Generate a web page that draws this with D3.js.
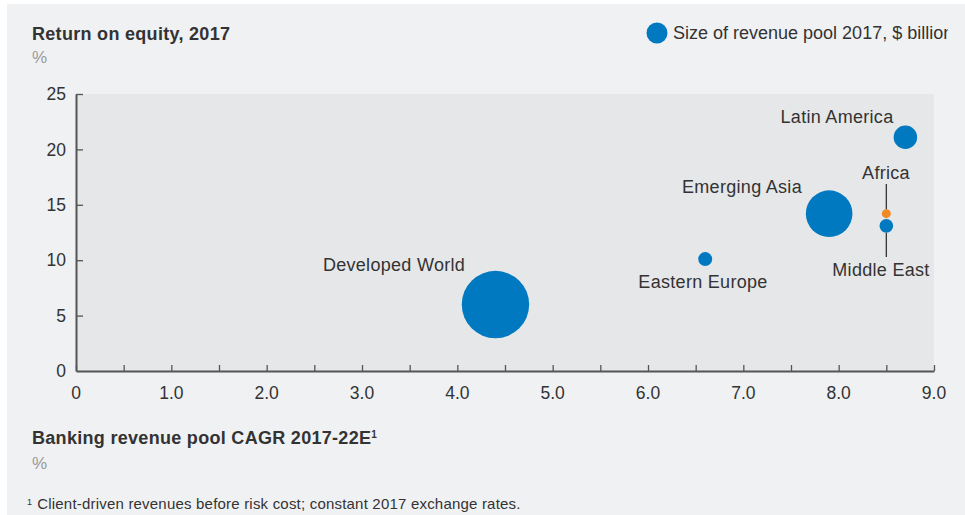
<!DOCTYPE html>
<html>
<head>
<meta charset="utf-8">
<script src="https://cdn.jsdelivr.net/npm/d3@7"></script>
<style>
  html, body { margin: 0; padding: 0; background: #fff; }
  svg { display: block; font-family: "Liberation Sans", Arial, sans-serif; }
</style>
</head>
<body>
<div id="chart"></div>
<script>
// data
var regions = ["Developed World", "Emerging Asia", "Latin America", "Eastern Europe", "Middle East", "Africa"];
var cagr    = [4.4, 7.9, 8.7, 6.6, 8.5, 8.5];        // x, %
var roe     = [6.0, 14.2, 21.1, 10.1, 13.1, 14.2];   // y, %
var pool    = [2800, 1340, 340, 120, 115, 50];       // $ billion (bubble size)
var xTicks  = [0, 1, 2, 3, 4, 5, 6, 7, 8, 9];
var yTicks  = [0, 5, 10, 15, 20, 25];

var W = 965, H = 515;
var m = {left: 76, right: 31, top: 94, bottom: 144};
var blue = "#0079c1", orange = "#f08a24", ink = "#333", grey = "#9a9a9a";

var svg = d3.select("#chart").append("svg").attr("width", W).attr("height", H);

// panel
svg.append("rect").attr("x", 7).attr("y", 4).attr("width", W - 7).attr("height", H - 4).attr("fill", "#f0f1f3");

var x = d3.scaleLinear().domain([0, 9]).range([m.left, W - m.right]);
var y = d3.scaleLinear().domain([0, 25]).range([H - m.bottom, m.top]);
var r = d3.scaleSqrt().domain([0, 2800]).range([0, 33.7]);

svg.append("rect")
  .attr("x", x(0)).attr("y", y(25))
  .attr("width", x(9) - x(0)).attr("height", y(0) - y(25))
  .attr("fill", "#e6e7e9");

// titles
svg.append("text").attr("x", 32).attr("y", 40).attr("font-size", 18).attr("letter-spacing", 0.3)
  .attr("font-weight", "bold").attr("fill", ink).text("Return on equity, 2017");
svg.append("text").attr("x", 32).attr("y", 63).attr("font-size", 17).attr("fill", grey).text("%");

var xt = svg.append("text").attr("x", 32).attr("y", 444).attr("font-size", 18).attr("letter-spacing", 0.3)
  .attr("font-weight", "bold").attr("fill", ink);
xt.append("tspan").text("Banking revenue pool CAGR 2017-22E");
xt.append("tspan").attr("font-size", 10).attr("dy", -6).text("1");
svg.append("text").attr("x", 32).attr("y", 469).attr("font-size", 17).attr("fill", grey).text("%");

var fn = svg.append("text").attr("x", 27).attr("y", 509).attr("font-size", 15).attr("letter-spacing", 0.2).attr("fill", ink);
fn.append("tspan").attr("font-size", 9).attr("dy", -4).text("1");
fn.append("tspan").attr("dy", 4).attr("dx", 5).text("Client-driven revenues before risk cost; constant 2017 exchange rates.");

// legend (clipped at the right like the source)
svg.append("clipPath").attr("id", "lg").append("rect").attr("x", 600).attr("y", 0).attr("width", 348).attr("height", 60);
var lg = svg.append("g").attr("clip-path", "url(#lg)");
lg.append("circle").attr("cx", 657).attr("cy", 33).attr("r", 10.5).attr("fill", blue);
lg.append("text").attr("x", 673).attr("y", 39).attr("font-size", 18).attr("fill", ink)
  .text("Size of revenue pool 2017, $ billion");

// axes
var xAxis = d3.axisBottom(x).tickValues(d3.range(0, 9.01, 0.5)).tickSizeInner(-6).tickSizeOuter(0).tickFormat("");
var gx = svg.append("g").attr("transform", "translate(0," + y(0) + ")").call(xAxis);
var yAxis = d3.axisLeft(y).tickValues(yTicks).tickSizeInner(-7).tickSizeOuter(0).tickFormat("");
var gy = svg.append("g").attr("transform", "translate(" + x(0) + ",0)").call(yAxis);
[gx, gy].forEach(function(g) {
  g.selectAll("path").attr("stroke", "#555").attr("stroke-width", 2);
  g.selectAll("line").attr("stroke", "#555").attr("stroke-width", 1.3);
});
gy.selectAll(".tick").filter(function(d) { return d === 0; }).remove();

svg.append("g").selectAll("text").data(xTicks).enter().append("text")
  .attr("x", function(d) { return x(d); }).attr("y", 399)
  .attr("text-anchor", "middle").attr("font-size", 17.5).attr("fill", ink)
  .text(function(d) { return d === 0 ? "0" : d3.format(".1f")(d); });
svg.append("g").selectAll("text").data(yTicks).enter().append("text")
  .attr("x", 66).attr("y", function(d) { return y(d); }).attr("dy", "0.35em")
  .attr("text-anchor", "end").attr("font-size", 17.5).attr("fill", ink)
  .text(function(d) { return d; });

// bubbles
var pts = regions.map(function(n, i) { return {name: n, x: cagr[i], y: roe[i], v: pool[i]}; });
svg.append("g").selectAll("circle").data(pts).enter().append("circle")
  .attr("cx", function(d) { return x(d.x); })
  .attr("cy", function(d) { return y(d.y); })
  .attr("r", function(d) { return r(d.v); })
  .attr("fill", function(d) { return d.name === "Africa" ? orange : blue; });

// leader lines for the two small ones
var af = pts[5], me = pts[4];
svg.append("line").attr("x1", x(af.x)).attr("x2", x(af.x))
  .attr("y1", 184).attr("y2", y(af.y) - r(af.v)).attr("stroke", ink).attr("stroke-width", 1.3);
svg.append("line").attr("x1", x(me.x)).attr("x2", x(me.x))
  .attr("y1", y(me.y) + r(me.v)).attr("y2", 257).attr("stroke", ink).attr("stroke-width", 1.3);

// labels
var labels = [
  {name: "Latin America",   lx: 837, ly: 123},
  {name: "Emerging Asia",   lx: 742, ly: 193},
  {name: "Africa",          lx: 886, ly: 179},
  {name: "Middle East",     lx: 881, ly: 276},
  {name: "Eastern Europe",  lx: 703, ly: 288},
  {name: "Developed World", lx: 394, ly: 271}
];
svg.append("g").selectAll("text").data(labels).enter().append("text")
  .attr("x", function(d) { return d.lx; }).attr("y", function(d) { return d.ly; })
  .attr("text-anchor", "middle").attr("font-size", 18).attr("letter-spacing", 0.3).attr("fill", ink)
  .text(function(d) { return d.name; });
</script>
</body>
</html>
